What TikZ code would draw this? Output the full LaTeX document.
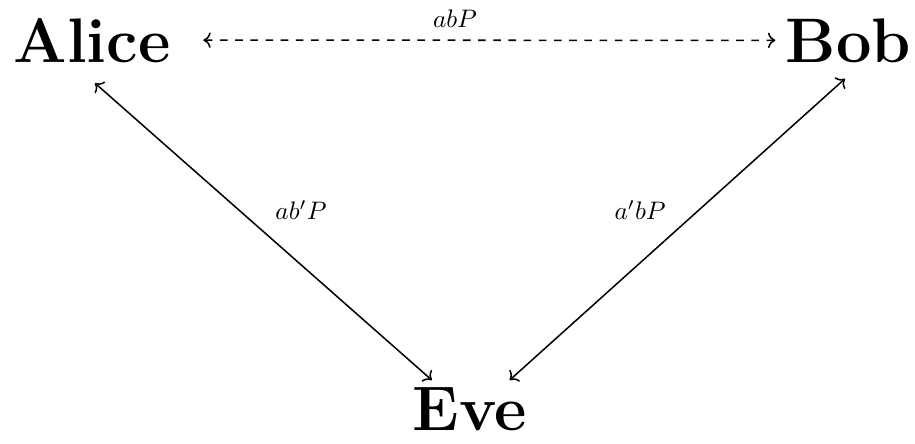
\documentclass[tikz,border=0pt]{standalone}
\usepackage{amsmath, amssymb}
\usepackage{tikz}
\usetikzlibrary{calc, arrows.meta, positioning}

\begin{document}
\begin{tikzpicture}[party/.style={inner sep=0pt, anchor=base, font=\Huge\bfseries},
    msg/.style={inner sep=0pt, font=\normalsize}]
    \useasboundingbox (0,0) rectangle (12.708,-6.153);
    % Parties
    \node[party] (alice) at (1.278,-0.861) {Alice};
    \node[party] (bob) at (11.785,-0.861) {Bob};
    \node[party] (eve) at (6.528,-5.972) {Eve};
    % Honest exchange
    \draw[<->, dashed, semithick] ($(alice.east)+(0.45,0)$) -- node[msg, above=0.17cm, pos=0.44] (ab) {$abP$} ($(bob.west)+(-0.14,0)$);
    % Eve in the middle
    \draw[<->, semithick] ($(alice.south)+(0.04,-0.28)$) -- ($(eve.north)+(-0.53,0.09)$);
    \draw[<->, semithick] ($(bob.south)+(-0.05,-0.22)$) -- ($(eve.north)+(0.55,0.09)$);
    \node[msg] (abp) at (4.18,-2.92) {$ab'P$};
    \node[msg] (apb) at (8.89,-2.92) {$a'bP$};
  \end{tikzpicture}
\end{document}
